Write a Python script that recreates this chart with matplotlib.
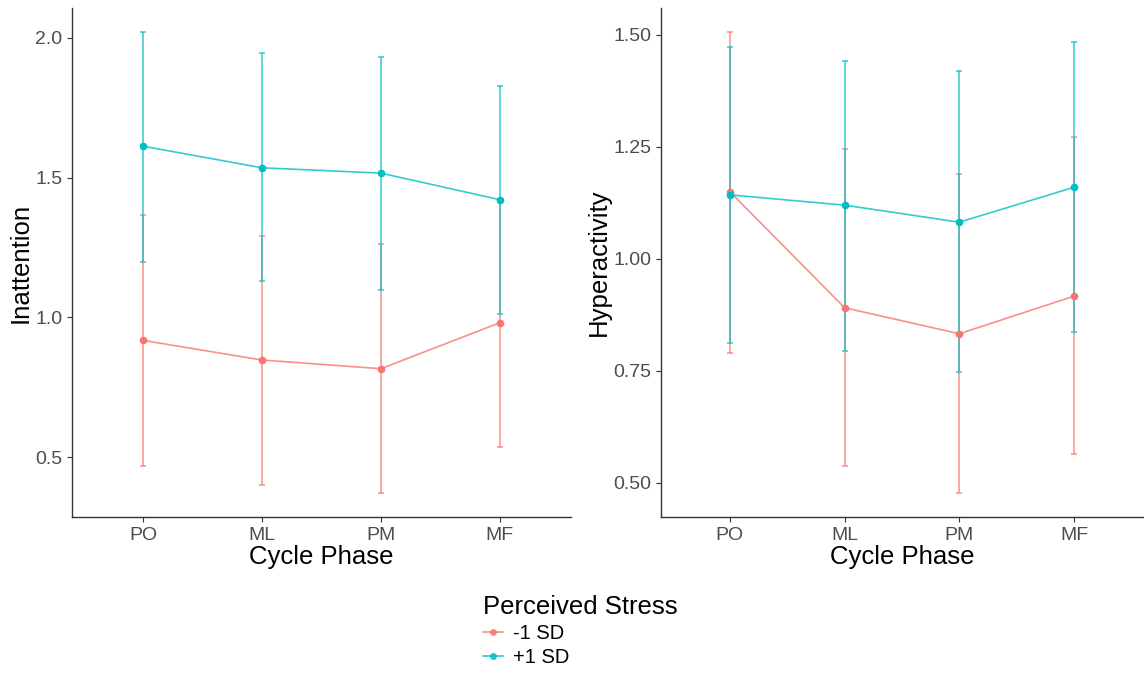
import numpy as np
import matplotlib.pyplot as plt
from matplotlib.lines import Line2D

plt.rcParams['font.family'] = ['Liberation Sans', 'DejaVu Sans']

phases = ['PO', 'ML', 'PM', 'MF']
groups = ['-1 SD', '+1 SD']
colors = ['#F8766D', '#00BFC4']

# Inattention: estimates with lower / upper interval bounds
inatt_mean = {'-1 SD': [0.918, 0.848, 0.817, 0.981],
              '+1 SD': [1.612, 1.535, 1.516, 1.421]}
inatt_lo = {'-1 SD': [0.468, 0.402, 0.372, 0.538],
            '+1 SD': [1.198, 1.129, 1.099, 1.011]}
inatt_hi = {'-1 SD': [1.366, 1.291, 1.264, 1.425],
            '+1 SD': [2.020, 1.945, 1.932, 1.826]}

# Hyperactivity
hyper_mean = {'-1 SD': [1.150, 0.891, 0.833, 0.917],
              '+1 SD': [1.143, 1.120, 1.082, 1.160]}
hyper_lo = {'-1 SD': [0.790, 0.537, 0.478, 0.564],
            '+1 SD': [0.812, 0.795, 0.748, 0.836]}
hyper_hi = {'-1 SD': [1.507, 1.246, 1.190, 1.271],
            '+1 SD': [1.473, 1.442, 1.419, 1.485]}


def draw_panel(ax, mean, lo, hi, ylabel, yticks, ylim, fmt):
    x = np.arange(len(phases))
    for g, c in zip(groups, colors):
        m = np.array(mean[g])
        err = np.vstack([m - np.array(lo[g]), np.array(hi[g]) - m])
        ax.errorbar(x, m, yerr=err, color=c, lw=1.2, alpha=0.8,
                    elinewidth=1.1, capsize=2, capthick=1.1, zorder=2)
        ax.plot(x, m, 'o', color=c, ms=4.5, zorder=3)
    ax.set_xlim(-0.6, len(phases) - 0.4)
    ax.set_ylim(*ylim)
    ax.set_xticks(x)
    ax.set_xticklabels(phases)
    ax.set_yticks(yticks)
    ax.set_yticklabels([fmt.format(v) for v in yticks])
    ax.tick_params(labelsize=14, colors='#333333', labelcolor='#4D4D4D',
                   length=3.5, width=0.8)
    for side in ['top', 'right']:
        ax.spines[side].set_visible(False)
    for side in ['left', 'bottom']:
        ax.spines[side].set_color('#333333')
        ax.spines[side].set_linewidth(1.0)
    ax.set_xlabel('Cycle Phase', fontsize=18.5, labelpad=1)
    ax.set_ylabel(ylabel, fontsize=18.5, labelpad=2)


fig = plt.figure(figsize=(11.44, 6.73), dpi=100)
ax1 = fig.add_axes([0.0629, 0.2318, 0.4362, 0.7563])
ax2 = fig.add_axes([0.5778, 0.2318, 0.4213, 0.7563])

draw_panel(ax1, inatt_mean, inatt_lo, inatt_hi, 'Inattention',
           [0.5, 1.0, 1.5, 2.0], (0.287, 2.106), '{:.1f}')
draw_panel(ax2, hyper_mean, hyper_lo, hyper_hi, 'Hyperactivity',
           [0.50, 0.75, 1.00, 1.25, 1.50], (0.424, 1.560), '{:.2f}')

handles = [Line2D([], [], color=c, lw=1.2, alpha=0.8, marker='o', ms=4)
           for c in colors]
fig.legend(handles, groups, title='Perceived Stress', loc='upper left',
           bbox_to_anchor=(0.4135, 0.131), frameon=False,
           fontsize=14.5, title_fontsize=18.5, handlelength=1.0,
           handletextpad=0.5, labelspacing=0.25, alignment='left',
           borderpad=0)

fig.savefig('out.png', dpi=100)
